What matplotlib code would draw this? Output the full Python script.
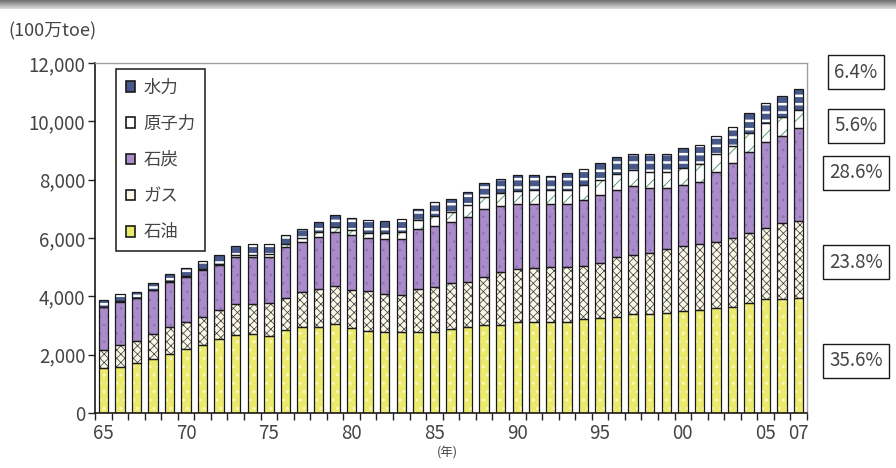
import numpy as np
import matplotlib
matplotlib.use("Agg")
import matplotlib.pyplot as plt
from matplotlib.patches import Patch

plt.rcParams['font.family'] = ['Noto Sans CJK JP', 'DejaVu Sans']
plt.rcParams['hatch.linewidth'] = 0.5

# 世界の一次エネルギー消費量 (100万toe)
years = list(range(1965, 2008))
oil = [1530, 1590, 1700, 1840, 2020, 2195, 2330, 2525, 2675, 2700, 2640, 2845, 2960, 2965, 3050,
       2925, 2825, 2765, 2765, 2770, 2770, 2870, 2935, 3020, 3020, 3130, 3130, 3130, 3130, 3210,
       3245, 3300, 3385, 3385, 3445, 3510, 3530, 3590, 3645, 3760, 3895, 3900, 3952]
gas = [630, 745, 765, 870, 935, 935, 970, 1005, 1065, 1040, 1120, 1085, 1180, 1280, 1315,
       1295, 1360, 1305, 1280, 1470, 1540, 1575, 1565, 1655, 1805, 1795, 1830, 1865, 1865, 1840,
       1910, 2060, 2035, 2090, 2170, 2215, 2265, 2285, 2345, 2425, 2460, 2605, 2642]
coal = [1485, 1485, 1465, 1510, 1545, 1545, 1600, 1545, 1620, 1620, 1600, 1770, 1735, 1805, 1850,
        1885, 1805, 1885, 1910, 2070, 2115, 2090, 2230, 2310, 2275, 2240, 2205, 2170, 2170, 2250,
        2320, 2285, 2365, 2230, 2090, 2090, 2135, 2400, 2570, 2775, 2950, 2995, 3175]
nuclear = [6, 8, 9, 12, 14, 18, 25, 34, 45, 58, 87, 100, 125, 148, 156,
           161, 190, 215, 250, 300, 340, 360, 390, 420, 430, 450, 470, 475, 490, 505,
           525, 545, 545, 555, 575, 585, 600, 610, 600, 625, 627, 635, 622]
hydro = [220, 240, 225, 230, 245, 290, 285, 320, 330, 360, 345, 300, 300, 345, 415,
         410, 440, 425, 445, 400, 460, 450, 465, 495, 495, 545, 525, 500, 560, 545,
         580, 575, 550, 620, 600, 670, 660, 615, 655, 690, 710, 735, 710]

tick_years = [1965, 1970, 1975, 1980, 1985, 1990, 1995, 2000, 2005, 2007]
tick_labels = ['65', '70', '75', '80', '85', '90', '95', '00', '05', '07']

# (系列名, 値, 塗り色, ハッチ, ハッチ色, ハッチ線幅) 下から積む順
layers = [
    ('石油', oil, '#ecea6c', '..', '#f8f8c4', 1.0),
    ('ガス', gas, '#fbf9e6', 'xxxx', '#404040', 0.55),
    ('石炭', coal, '#a98cc9', '..', '#8f70b6', 0.6),
    ('原子力', nuclear, '#ffffff', '//', '#3f8f55', 0.6),
    ('水力', hydro, '#46588a', '--', '#ffffff', 1.8),
]

fig = plt.figure(figsize=(8.96, 4.68), dpi=100)
ax = fig.add_axes([95 / 896, 55 / 468, 712 / 896, 350 / 468])

x = np.arange(len(years))
width = 0.57
bottom = np.zeros(len(years))
for name, vals, face, hatch, hcol, hlw in layers:
    vals = np.array(vals, dtype=float)
    with plt.rc_context({'hatch.linewidth': hlw}):
        ax.bar(x, vals, width, bottom=bottom, color=face, edgecolor=hcol,
               hatch=hatch, linewidth=0, zorder=2)
    ax.bar(x, vals, width, bottom=bottom, fill=False, edgecolor='#1a1a1a',
           linewidth=0.9, zorder=3)
    bottom += vals

ax.set_xlim(-0.5, len(years) - 0.5)
ax.set_ylim(0, 12000)
ax.set_yticks(range(0, 12001, 2000))
ax.set_yticklabels([f'{v:,}' for v in range(0, 12001, 2000)])
ax.tick_params(axis='y', direction='out', length=5, width=1, pad=2,
               labelsize=13.5, labelcolor='#444444', color='#222222')

ax.set_xticks([years.index(y) for y in tick_years])
ax.set_xticklabels(tick_labels)
ax.set_xticks(np.arange(len(years) + 1) - 0.5, minor=True)
ax.tick_params(axis='x', which='major', length=0, pad=7,
               labelsize=13.5, labelcolor='#444444')
ax.tick_params(axis='x', which='minor', direction='out', length=5, width=1,
               color='#222222')

for side in ('top', 'right'):
    ax.spines[side].set_color('#a0a0a0')
    ax.spines[side].set_linewidth(1)
for side in ('left', 'bottom'):
    ax.spines[side].set_color('#1a1a1a')
    ax.spines[side].set_linewidth(1.2)

# 凡例 (上から水力→石油)
handles = [Patch(facecolor=face, edgecolor='#1a1a1a', linewidth=1.2, label=name)
           for name, vals, face, hatch, hcol, hlw in layers[::-1]]
leg = ax.legend(handles=handles, loc='upper left', bbox_to_anchor=(0.0295, 0.983),
                borderaxespad=0, fontsize=12.5, handlelength=0.55, handleheight=0.55,
                handletextpad=0.5, labelspacing=1.05, borderpad=0.55,
                fancybox=False, framealpha=1, edgecolor='#1a1a1a')
leg.get_frame().set_linewidth(1.1)
for t in leg.get_texts():
    t.set_color('#444444')

# 2007年の構成比
total_2007 = sum(v[-1] for _, v, *_ in layers)
share_pos = {'水力': 72, '原子力': 126, '石炭': 173, 'ガス': 262, '石油': 361}
for name, vals, *_ in layers:
    share = vals[-1] / total_2007 * 100
    fig.text(856 / 896, 1 - share_pos[name] / 468, f'{share:.1f}%',
             ha='center', va='center', fontsize=13.5, color='#444444',
             bbox=dict(boxstyle='square,pad=0.35', facecolor='white',
                       edgecolor='#1a1a1a', linewidth=1))

fig.text(8 / 896, 1 - 31 / 468, '(100万toe)', ha='left', va='center',
         fontsize=13, color='#444444')
fig.text(447 / 896, 1 - 453 / 468, '(年)', ha='center', va='center',
         fontsize=9, color='#444444')

# 上端のグレーの帯
band = fig.add_axes([0, 1 - 9 / 468, 1, 9 / 468])
grad = np.linspace(0.45, 0.85, 9).reshape(-1, 1)
band.imshow(grad, aspect='auto', cmap='gray', vmin=0, vmax=1, extent=(0, 1, 0, 1))
band.axis('off')

fig.savefig('out.png', dpi=100)
